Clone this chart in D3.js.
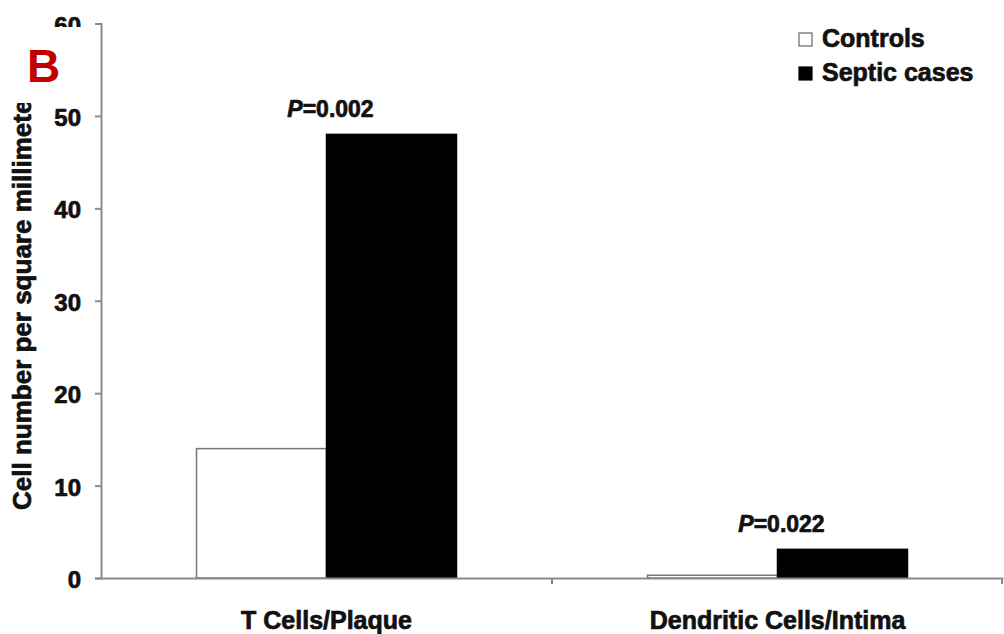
<!DOCTYPE html>
<html><head><meta charset="utf-8">
<script src="https://cdn.jsdelivr.net/npm/d3@7"></script>
<style>body{margin:0;background:#fff}svg{display:block}text{font-family:"Liberation Sans",Arial,sans-serif;font-weight:bold}</style>
</head><body><svg id="c" width="1004" height="634"></svg>
<script>
const categories = ["T Cells/Plaque", "Dendritic Cells/Intima"];
const seriesNames = ["Controls", "Septic cases"];
const controls = [14, 0.3];
const septic = [48, 3.1];
const pValues = ["0.002", "0.022"];
const yTicks = [0, 10, 20, 30, 40, 50, 60];

const svg = d3.select("#c");
const y = d3.scaleLinear().domain([0, 60]).range([578, 23.5]);
const x = d3.scaleBand().domain(categories).range([101, 1003]).padding(0);
const xs = d3.scaleBand().domain(seriesNames).range([0, x.bandwidth()]).paddingInner(0).paddingOuter(0.735);
const fills = ["#ffffff", "#000000"];
const axisColor = "#8a8a8a";
const ink = "#111";
function heavy(sel, size) {
  sel.attr("font-size", size).attr("fill", ink).attr("stroke", ink).attr("stroke-width", 0.7)
    .attr("font-family", '"Liberation Sans",Arial,sans-serif').attr("font-weight", "bold");
}

// y-axis label
svg.append("text").attr("transform", "translate(31,510) rotate(-90)")
  .call(heavy, 26).text("Cell number per square millimeter");

// bars
const series = [controls, septic];
categories.forEach((c, i) => {
  seriesNames.forEach((s, j) => {
    svg.append("rect")
      .attr("x", x(c) + xs(s)).attr("width", xs.bandwidth())
      .attr("y", y(series[j][i])).attr("height", y(0) - y(series[j][i]))
      .attr("fill", fills[j]).attr("stroke", j === 0 ? "#777" : "#000").attr("stroke-width", 1.5);
  });
  const t = svg.append("text").attr("x", x(c) + x.bandwidth() / 2 + 4)
    .attr("y", y(Math.max(controls[i], septic[i])) - 17)
    .attr("text-anchor", "middle").call(heavy, 23);
  t.append("tspan").attr("font-style", "italic").text("P");
  t.append("tspan").text("=" + pValues[i]);
});

// y axis
const ya = svg.append("g").attr("transform", "translate(101,0)")
  .call(d3.axisLeft(y).tickValues(yTicks).tickSize(6).tickPadding(14).tickFormat(d3.format("d")));
ya.selectAll("path,line").attr("stroke", axisColor).attr("stroke-width", 2);
ya.selectAll("text").call(heavy, 24).attr("dy", "0.4em");

// x axis
const xa = svg.append("g").attr("transform", `translate(0,${y(0)})`)
  .call(d3.axisBottom(x).tickSize(0).tickPadding(33).tickSizeOuter(0));
xa.select("path").attr("stroke", axisColor).attr("stroke-width", 2);
xa.selectAll("text").call(heavy, 25);
// boundary ticks
[x(categories[1]), 1002].forEach(px => {
  svg.append("line").attr("x1", px).attr("x2", px).attr("y1", y(0)).attr("y2", y(0) + 6)
    .attr("stroke", axisColor).attr("stroke-width", 2);
});

// white cover and panel letter
svg.append("rect").attr("x", 0).attr("y", 27).attr("width", 94).attr("height", 76).attr("fill", "#fff");
svg.append("text").attr("x", 27).attr("y", 82).attr("font-size", 46).attr("fill", "#c00000").text("B");

// legend
seriesNames.forEach((s, j) => {
  const ly = 39 + j * 34;
  svg.append("rect").attr("x", 799).attr("y", ly - 6).attr("width", 13).attr("height", 13)
    .attr("fill", fills[j]).attr("stroke", j === 0 ? "#666" : "#000").attr("stroke-width", 1.2);
  svg.append("text").attr("x", 822).attr("y", ly + 8).call(heavy, 25).text(s);
});
</script></body></html>
